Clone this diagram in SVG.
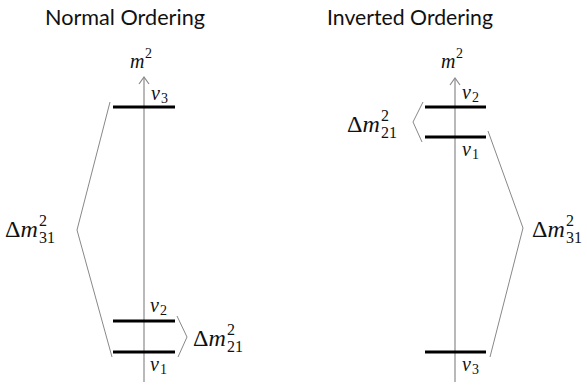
<svg xmlns="http://www.w3.org/2000/svg" width="587" height="385" viewBox="0 0 587 385">
<defs>
<style>
.title{font-family:Lato,"Open Sans","Liberation Sans",sans-serif;font-size:21px;fill:#111}
.axis{stroke:#8a8a8a;stroke-width:1.2;fill:none}
.lvl{stroke:#000;stroke-width:3}
.br{stroke:#888;stroke-width:1;fill:none}
.m{font-family:"Liberation Serif","DejaVu Serif",serif;font-size:20px;fill:#111}
.it{font-style:italic}
.s{font-family:"Liberation Serif","DejaVu Serif",serif;font-size:14px;fill:#111}
.big{font-family:"Liberation Serif","DejaVu Serif",serif;font-size:24px;fill:#111}
.bs{font-family:"Liberation Serif","DejaVu Serif",serif;font-size:16px;fill:#111}
</style>
</defs>
<rect width="587" height="385" fill="#fff"/>
<g id="titles">
<text class="title" x="125" y="25" text-anchor="middle" textLength="160" lengthAdjust="spacingAndGlyphs">Normal Ordering</text>
<text class="title" x="410" y="25" text-anchor="middle" textLength="166" lengthAdjust="spacingAndGlyphs">Inverted Ordering</text>
</g>
<g id="normal">
<g id="normal-axis">
<line class="axis" x1="144" y1="382" x2="144" y2="77"/>
<path d="M139,84 L144,77 L149,84" fill="none" stroke="#8a8a8a" stroke-width="1.2"/>
<text class="m it" x="130" y="68">m</text><text class="s" x="145" y="58">2</text>
</g>
<g id="normal-nu3">
<line class="lvl" x1="113" y1="107" x2="175" y2="107"/>
<text class="m it" x="151" y="100">ν</text><text class="s" x="161" y="103">3</text>
</g>
<g id="normal-nu2">
<line class="lvl" x1="113" y1="321" x2="175" y2="321"/>
<text class="m it" x="150" y="312">ν</text><text class="s" x="160" y="315">2</text>
</g>
<g id="normal-nu1">
<line class="lvl" x1="113" y1="352" x2="175" y2="352"/>
<text class="m it" x="150" y="371">ν</text><text class="s" x="160" y="374">1</text>
</g>
<g id="normal-dm31">
<text class="big" x="5" y="237">Δ<tspan font-style="italic">m</tspan></text>
<text class="bs" x="39" y="226">2</text><text class="bs" x="39" y="243">31</text>
</g>
<g id="normal-dm21">
<text class="big" x="193" y="346">Δ<tspan font-style="italic">m</tspan></text>
<text class="bs" x="227" y="335">2</text><text class="bs" x="227" y="352">21</text>
</g>
</g>
<g id="inverted">
<g id="inverted-axis">
<line class="axis" x1="455" y1="382" x2="455" y2="78"/>
<path d="M450,85 L455,78 L460,85" fill="none" stroke="#8a8a8a" stroke-width="1.2"/>
<text class="m it" x="441" y="68">m</text><text class="s" x="456" y="58">2</text>
</g>
<g id="inverted-nu2">
<line class="lvl" x1="425" y1="107" x2="486" y2="107"/>
<text class="m it" x="462" y="99">ν</text><text class="s" x="472" y="102">2</text>
</g>
<g id="inverted-nu1">
<line class="lvl" x1="425" y1="137" x2="486" y2="137"/>
<text class="m it" x="462" y="156">ν</text><text class="s" x="472" y="159">1</text>
</g>
<g id="inverted-nu3">
<line class="lvl" x1="425" y1="352" x2="486" y2="352"/>
<text class="m it" x="462" y="371">ν</text><text class="s" x="472" y="374">3</text>
</g>
<g id="inverted-dm21">
<text class="big" x="347" y="132">Δ<tspan font-style="italic">m</tspan></text>
<text class="bs" x="381" y="121">2</text><text class="bs" x="381" y="138">21</text>
</g>
<g id="inverted-dm31">
<text class="big" x="532" y="237">Δ<tspan font-style="italic">m</tspan></text>
<text class="bs" x="566" y="226">2</text><text class="bs" x="566" y="243">31</text>
</g>
</g>
<g id="connectors">
<polyline class="br" points="110,102 77,230 112,357"/>
<polyline class="br" points="177,316 187,337 178,357"/>
<polyline class="br" points="423,102 413,122 422,142"/>
<polyline class="br" points="488,131 523,228 490,357"/>
</g>
</svg>
